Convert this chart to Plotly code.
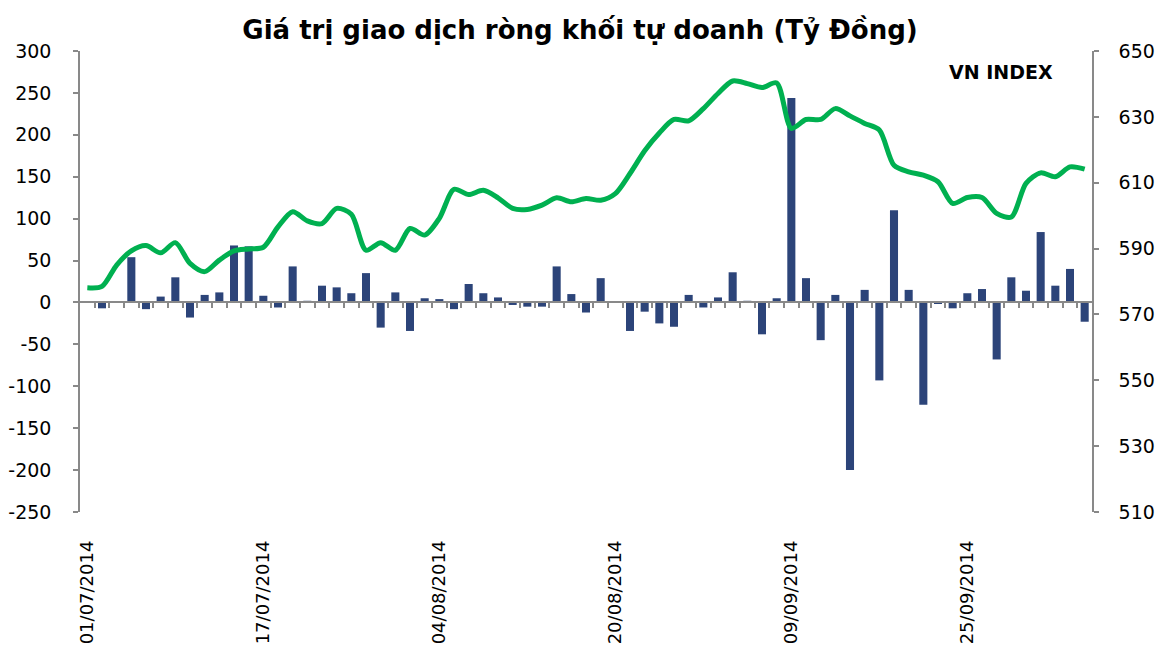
import plotly.graph_objects as go

dates = [
    "01/07/2014", "02/07/2014", "03/07/2014", "04/07/2014", "07/07/2014", "08/07/2014",
    "09/07/2014", "10/07/2014", "11/07/2014", "14/07/2014", "15/07/2014", "16/07/2014",
    "17/07/2014", "18/07/2014", "21/07/2014", "22/07/2014", "23/07/2014", "24/07/2014",
    "25/07/2014", "28/07/2014", "29/07/2014", "30/07/2014", "31/07/2014", "01/08/2014",
    "04/08/2014", "05/08/2014", "06/08/2014", "07/08/2014", "08/08/2014", "11/08/2014",
    "12/08/2014", "13/08/2014", "14/08/2014", "15/08/2014", "18/08/2014", "19/08/2014",
    "20/08/2014", "21/08/2014", "22/08/2014", "25/08/2014", "26/08/2014", "27/08/2014",
    "28/08/2014", "29/08/2014", "03/09/2014", "04/09/2014", "05/09/2014", "08/09/2014",
    "09/09/2014", "10/09/2014", "11/09/2014", "12/09/2014", "15/09/2014", "16/09/2014",
    "17/09/2014", "18/09/2014", "19/09/2014", "22/09/2014", "23/09/2014", "24/09/2014",
    "25/09/2014", "26/09/2014", "29/09/2014", "30/09/2014", "01/10/2014", "02/10/2014",
    "03/10/2014", "06/10/2014", "07/10/2014",
]

net_value = [
    0, -7, 0, 54, -8, 7, 30, -18, 9, 12, 68, 67, 8, -6, 43, 2, 20, 18,
    11, 35, -30, 12, -34, 5, 4, -8, 22, 11, 6, -3, -5, -5, 43, 10, -12,
    29, 0, -34, -11, -25, -29, 9, -6, 6, 36, 2, -38, 5, 244, 29, -45, 9,
    -200, 15, -93, 110, 15, -122, -1, -7, 11, 16, -68, 30, 14, 84, 20, 40, -23,
]

vn_index = [
    578.1, 578.5, 585.0, 589.3, 590.9, 588.7, 591.8, 585.5, 583.0, 586.5, 589.3, 589.9,
    590.4, 596.6, 601.2, 598.4, 597.6, 602.2, 600.4, 589.5, 591.8, 589.5, 596.1, 594.1,
    599.2, 608.0, 606.4, 607.7, 605.4, 602.2, 601.9, 603.2, 605.4, 604.2, 605.2, 604.7,
    606.7, 612.8, 619.7, 625.1, 629.2, 628.8, 632.5, 637.1, 640.9, 640.1, 638.9, 640.3,
    626.5, 629.2, 629.2, 632.5, 630.3, 628.0, 626.0, 615.3, 613.3, 612.3, 610.3, 603.7,
    605.5, 605.5, 600.7, 599.6, 609.8, 613.0, 611.8, 614.8, 614.1,
]

label_dates = ["01/07/2014", "17/07/2014", "04/08/2014", "20/08/2014", "09/09/2014", "25/09/2014"]
left_ticks = [-250, -200, -150, -100, -50, 0, 50, 100, 150, 200, 250, 300]
right_ticks = [510, 530, 550, 570, 590, 610, 630, 650]

title_text = "Giá trị giao dịch ròng khối tự doanh (Tỷ Đồng)"
line_label = "VN INDEX"

AXIS_GRAY = "#898989"
FONT = "DejaVu Sans"
n = len(dates)

fig = go.Figure()
fig.add_trace(go.Bar(
    x=dates, y=net_value, marker=dict(color="#2C4479", line=dict(width=0)),
    xaxis="x", yaxis="y", showlegend=False,
))
# helper trace so the zero-line axis gets drawn
fig.add_trace(go.Scatter(x=[], y=[], xaxis="x2", yaxis="y", showlegend=False))
fig.add_trace(go.Scatter(
    x=dates, y=vn_index, mode="lines",
    line=dict(color="#00B050", width=5, shape="spline", smoothing=0.8),
    xaxis="x", yaxis="y2", showlegend=False,
))

fig.update_layout(
    width=1160, height=648,
    margin=dict(l=80, r=68, t=51, b=136, autoexpand=False),
    paper_bgcolor="white", plot_bgcolor="white",
    bargap=0.45,
    title=dict(text="<b>" + title_text + "</b>", x=0.5, xanchor="center",
               y=1 - 30 / 648, yanchor="middle",
               font=dict(family=FONT, size=26, color="black")),
    xaxis=dict(type="category", categoryorder="array", categoryarray=dates,
               tickmode="array", tickvals=label_dates, ticktext=label_dates,
               tickangle=-90, showline=False, showgrid=False, zeroline=False,
               ticks="", ticklabelstandoff=24, automargin=False,
               tickfont=dict(family=FONT, size=18, color="black")),
    xaxis2=dict(overlaying="x", anchor="free", position=250 / 550,
                range=[-0.5, n - 0.5], tickmode="array",
                tickvals=[i + 0.5 for i in range(n - 1)],
                ticks="outside", ticklen=5, tickwidth=1.5, tickcolor=AXIS_GRAY,
                showticklabels=False, showline=True, linecolor=AXIS_GRAY, linewidth=1.5,
                showgrid=False, zeroline=False, automargin=False),
    yaxis=dict(range=[-250, 300], tickmode="array", tickvals=left_ticks,
               ticktext=[str(v) for v in left_ticks],
               showgrid=False, zeroline=False, automargin=False,
               showline=True, linecolor=AXIS_GRAY, linewidth=1.5,
               ticks="outside", ticklen=5, tickwidth=1.5, tickcolor=AXIS_GRAY,
               ticklabelstandoff=18,
               tickfont=dict(family=FONT, size=19, color="black")),
    yaxis2=dict(range=[510, 650], tickmode="array", tickvals=right_ticks,
                ticktext=[str(v) for v in right_ticks],
                overlaying="y", side="right", automargin=False,
                anchor="x", showgrid=False, zeroline=False,
                showline=True, linecolor=AXIS_GRAY, linewidth=1.5,
                ticks="outside", ticklen=5, tickwidth=1.5, tickcolor=AXIS_GRAY,
                ticklabelstandoff=16,
                tickfont=dict(family=FONT, size=19, color="black")),
    annotations=[dict(text="<b>" + line_label + "</b>", xref="paper", yref="paper",
                      x=(1001 - 80) / 1012, y=(512.3 - 72) / 461.6,
                      xanchor="center", yanchor="middle", showarrow=False,
                      font=dict(family=FONT, size=19, color="black"))],
)

fig.write_html("out.html", config={"displayModeBar": False},
               post_script="document.body.style.margin='0';")
